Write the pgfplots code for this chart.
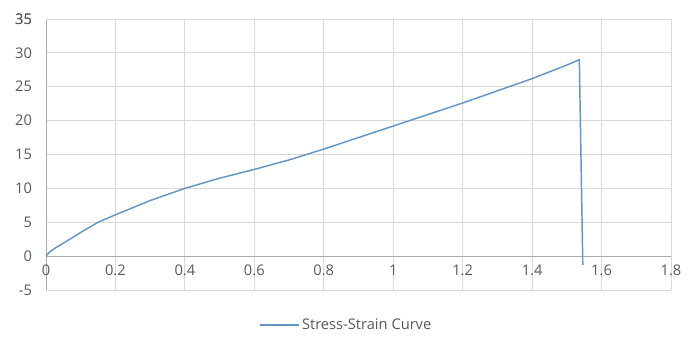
\documentclass[border=0pt]{standalone}
\usepackage{pgfplots}
\pgfplotsset{compat=1.18}
\usepackage{fontspec}
\setmainfont{Open Sans}
\definecolor{gridc}{RGB}{217,217,217}
\definecolor{axc}{RGB}{170,170,170}
\definecolor{txt}{RGB}{89,89,89}
\definecolor{linec}{RGB}{100,150,195}
\begin{document}
\begin{tikzpicture}
\begin{axis}[
  scale only axis,
  width=468.75pt, height=203.25pt,
  xmin=0, xmax=1.8, ymin=-5, ymax=35,
  xtick={0,0.2,...,1.8}, ytick={-5,0,...,35},
  axis x line=middle, axis y line=left,
  x axis line style={-, draw=axc},
  y axis line style={-, draw=axc},
  hide obscured x ticks=false, hide obscured y ticks=false,
  major tick length=0pt,
  grid=major, major grid style={draw=gridc, line width=0.6pt},
  extra y ticks={35}, extra y tick style={grid=major},
  ticklabel style={font=\fontsize{11}{13}\selectfont, text=txt},
  /pgf/number format/assume math mode=true,
  xticklabel style={yshift=-3pt},
  yticklabel style={xshift=-7pt},
  legend style={at={(0.481,-0.129)}, anchor=center, draw=none, font=\fontsize{11}{13}\selectfont, text=txt, legend columns=1},
  legend image code/.code={\draw[#1] (0pt,0pt) -- (29pt,0pt);},
]
\addplot[linec, line width=1.1pt, line join=round] coordinates {
(0,0) (0.01,0.6) (0.03,1.3) (0.05,1.9) (0.1,3.5) (0.15,5.0) (0.2,6.1) (0.3,8.2) (0.4,10.0)
(0.5,11.5) (0.6,12.8) (0.7,14.2) (0.8,15.8) (0.9,17.5) (1.0,19.2) (1.1,20.9)
(1.2,22.6) (1.3,24.4) (1.4,26.2) (1.5,28.2) (1.536,29.0) (1.546,-1.3)
};
\addlegendentry{Stress-Strain Curve}
\end{axis}
\pgfresetboundingbox
\path[use as bounding box] (-34.5pt,-44.25pt) rectangle (487.5pt,217.5pt);
\end{tikzpicture}
\end{document}
